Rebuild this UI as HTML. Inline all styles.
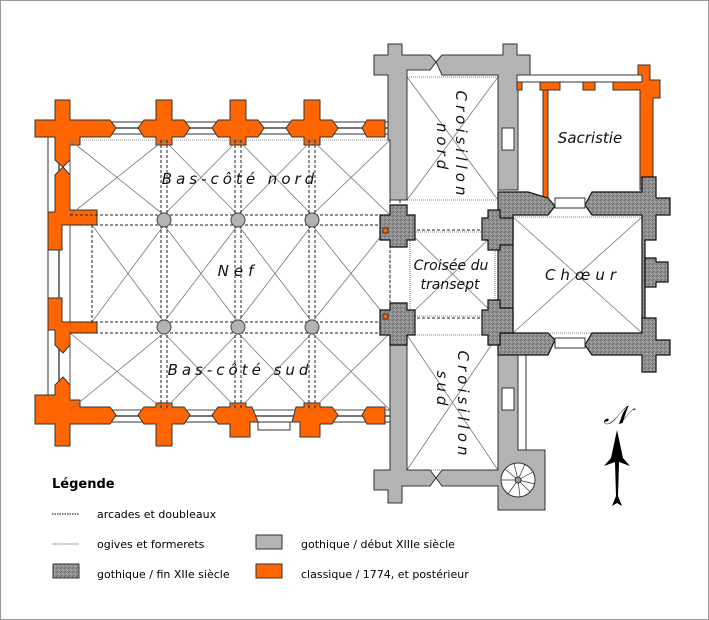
<!DOCTYPE html>
<html><head><meta charset="utf-8"><style>
html,body{margin:0;padding:0;background:#fff}
svg{display:block}
text{font-family:"DejaVu Sans","Liberation Sans",sans-serif}
</style></head><body>
<svg width="709" height="620" viewBox="0 0 709 620" xmlns="http://www.w3.org/2000/svg">
<defs>
<pattern id="tx" width="4" height="4" patternUnits="userSpaceOnUse">
<rect width="4" height="4" fill="#8e8e8e"/>
<rect x="0" y="0" width="1" height="1" fill="#6a6a6a"/>
<rect x="2" y="1" width="1" height="1" fill="#b0b0b0"/>
<rect x="1" y="3" width="1" height="1" fill="#707070"/>
<rect x="3" y="2" width="1" height="1" fill="#a8a8a8"/>
</pattern>
</defs>
<rect x="0.5" y="0.5" width="708" height="619" fill="#fff" stroke="#999"/>

<g fill="#fff" stroke="#333" stroke-width="1">
<rect x="70" y="122" width="320" height="12"/>
<rect x="70" y="410" width="320" height="12"/>
<rect x="48" y="135" width="22" height="275"/>
</g>
<g stroke="#777" stroke-width="2">
<line x1="70" y1="128" x2="390" y2="128"/>
<line x1="70" y1="416" x2="390" y2="416"/>
<line x1="59" y1="135" x2="59" y2="410"/>
</g>

<g fill="#ff6600" stroke="#333" stroke-width="1">
<path d="M35 120 H55 V100 H70 V120 H110 L116 128 L110 137 H80 V145 H70 V160 L63 167 L55 160 V137 H35 Z"/>
<path d="M138 128 L144 120 H156 V100 H172 V120 H184 L190 128 L184 137 H172 V145 H156 V137 H144 Z"/>
<path d="M212 128 L218 120 H230 V100 H246 V120 H258 L264 128 L258 137 H246 V145 H230 V137 H218 Z"/>
<path d="M286 128 L292 120 H304 V100 H320 V120 H332 L338 128 L332 137 H320 V145 H304 V137 H292 Z"/>
<path d="M362 128 L367 120 H385 V137 H367 Z"/>
<path d="M35 395 H55 V385 L63 377 L70 385 V400 H80 V407 H110 L116 415 L110 424 H70 V446 H55 V424 H35 Z"/>
<path d="M138 415 L144 407 H156 V403 H172 V407 H184 L190 415 L184 424 H172 V446 H156 V424 H144 Z"/>
<path d="M212 415 L218 407 H230 V403 H246 V407 H252 L258 422 H250 V437 H230 V424 H218 Z"/>
<path d="M292 422 L296 407 H304 V403 H320 V407 H332 L338 415 L332 424 H320 V437 H300 V422 Z"/>
<path d="M362 415 L367 407 H385 V424 H367 Z"/>
<path d="M55 175 L63 167 L70 175 V210 H97 V225 H62 V250 H48 V212 H55 Z"/>
<path d="M48 298 H62 V322 H97 V333 H70 V345 L63 353 L55 345 V330 H48 Z"/>
</g>
<rect x="258" y="422" width="32" height="8" fill="#fff" stroke="#333"/>

<g stroke="#777" stroke-width="0.8" fill="none">
<path d="M70 140 L164 215 M164 140 L70 215 M164 140 L238 215 M238 140 L164 215 M238 140 L312 215 M312 140 L238 215 M312 140 L390 215 M390 140 L312 215"/>
<path d="M92 225 L164 322 M164 225 L92 322 M164 225 L238 322 M238 225 L164 322 M238 225 L312 322 M312 225 L238 322 M312 225 L390 322 M390 225 L312 322"/>
<path d="M70 333 L164 410 M164 333 L70 410 M164 333 L238 410 M238 333 L164 410 M238 333 L312 410 M312 333 L238 410 M312 333 L390 410 M390 333 L312 410"/>
<path d="M407 230 L498 318 M498 230 L407 318"/>
<path d="M513 217 L642 333 M642 217 L513 333"/>
<path d="M407 77 L498 200 M498 77 L407 200"/>
<path d="M407 335 L498 470 M498 335 L407 470"/>
<rect x="70" y="140" width="320" height="270" stroke-dasharray="1 1"/>
</g>
<g stroke="#222" stroke-width="1" stroke-dasharray="3 2" fill="none">
<path d="M70 215 H390 M70 225 H390 M70 322 H390 M70 333 H390"/>
<path d="M161 140 V410 M167 140 V410 M235 140 V410 M241 140 V410 M309 140 V410 M315 140 V410"/>
<path d="M92 225 V322 M390 140 V410 M400 140 V215 M400 333 V410"/>
<path d="M407 230 H498 M407 318 H498 M498 230 V318 M513 230 V318"/>
</g>
<g stroke="#555" stroke-width="0.8" stroke-dasharray="1 1" fill="none">
<rect x="407" y="77" width="91" height="123"/>
<rect x="407" y="335" width="91" height="135"/>
<rect x="513" y="217" width="129" height="116"/>
<rect x="410" y="232" width="85" height="84"/>
</g>
<g fill="#b3b3b3" stroke="#444">
<circle cx="164" cy="220" r="7"/><circle cx="238" cy="220" r="7"/><circle cx="312" cy="220" r="7"/>
<circle cx="164" cy="327" r="7"/><circle cx="238" cy="327" r="7"/><circle cx="312" cy="327" r="7"/>
</g>

<g fill="#b3b3b3" stroke="#333" stroke-width="1">
<path d="M374 55 H388 V44 H402 V55 H430 L436 62 L430 70 H407 V200 H390 V140 H388 V75 H374 Z"/>
<path d="M436 62 L442 55 H503 V44 H517 V55 H530 V75 H518 V190 H498 V75 H442 Z"/>
<path d="M390 333 H407 V470 H430 L436 478 L430 486 H402 V503 H388 V490 H374 V470 H390 Z"/>
<path d="M436 478 L442 470 H498 V355 H518 V450 H545 V510 H498 V486 H442 Z"/>
</g>
<g fill="#fff" stroke="#333"><rect x="502" y="128" width="12" height="22"/><rect x="502" y="388" width="12" height="22"/><rect x="518" y="355" width="8" height="95"/></g>
<g fill="#fff" stroke="#333" stroke-width="1"><circle cx="518" cy="480" r="17"/></g>
<g stroke="#333" stroke-width="0.7"><path d="M518 480 L501 480 M518 480 L505 469 M518 480 L514 463 M518 480 L525 464 M518 480 L533 472 M518 480 L535 484 M518 480 L530 492 M518 480 L520 497 M518 480 L508 494"/></g>
<circle cx="518" cy="480" r="3" fill="#999" stroke="#333"/>

<g fill="#ff6600" stroke="#333" stroke-width="1">
<path d="M517 80 H522 V90 H517 Z"/>
<path d="M540 82 H560 V90 H540 Z"/>
<path d="M583 82 H595 V90 H583 Z"/>
<path d="M613 82 H638 V65 H650 V80 H660 V98 H653 V178 H640 V90 H613 Z"/>
<rect x="543" y="90" width="5" height="120"/>
</g>
<rect x="517" y="75" width="125" height="7" fill="#fff" stroke="#333"/>
<rect x="640" y="178" width="13" height="12" fill="url(#tx)" stroke="#333"/>

<g fill="url(#tx)" stroke="#111" stroke-width="1.2">
<path d="M498 192 H528 L548 198 L555 206 L548 215 H513 V330 H498 V240 L488 232 L490 220 L498 215 Z"/>
<path d="M585 205 L592 192 H642 V177 H656 V198 H670 V215 H656 V240 H645 V332 H642 V215 H592 Z"/>
<path d="M498 333 H548 L555 340 L548 355 H513 V355 H498 Z"/>
<path d="M585 345 L592 333 H642 V318 H656 V340 H670 V355 H656 V372 H642 V355 H592 Z"/>
<path d="M645 258 H656 V262 H668 V282 H656 V287 H645 Z"/>
<path d="M390 205 H407 V215 H415 V240 H407 V247 H390 V240 H380 V215 H390 Z"/>
<path d="M390 303 H407 V310 H415 V335 H407 V345 H390 V335 H380 V310 H390 Z"/>
<path d="M488 210 H500 V218 H513 V245 H500 V250 H488 V240 H482 V218 H488 Z"/>
<path d="M488 300 H500 V308 H513 V333 H500 V345 H488 V335 H482 V310 H488 Z"/>
</g>
<g fill="#fff" stroke="#333"><rect x="555" y="198" width="30" height="10"/><rect x="555" y="338" width="30" height="10"/></g>
<g fill="#ff6600" stroke="#333"><rect x="383" y="228" width="5" height="5"/><rect x="383" y="314" width="5" height="5"/></g>

<g font-style="italic" fill="#111" font-size="15">
<text x="240" y="184" text-anchor="middle" letter-spacing="4">Bas-côté nord</text>
<text x="238" y="276" text-anchor="middle" letter-spacing="5">Nef</text>
<text x="240" y="375" text-anchor="middle" letter-spacing="4">Bas-côté sud</text>
<text x="451" y="270" text-anchor="middle" font-size="14">Croisée du</text>
<text x="450" y="289" text-anchor="middle" font-size="14">transept</text>
<text x="583" y="280" text-anchor="middle" letter-spacing="5">Chœur</text>
<text x="590" y="143" text-anchor="middle">Sacristie</text>
<text transform="translate(456,145) rotate(90)" text-anchor="middle" letter-spacing="4">Croisillon</text>
<text transform="translate(437,148) rotate(90)" text-anchor="middle" letter-spacing="4">nord</text>
<text transform="translate(458,405) rotate(90)" text-anchor="middle" letter-spacing="4">Croisillon</text>
<text transform="translate(437,390) rotate(90)" text-anchor="middle" letter-spacing="4">sud</text>
</g>

<text x="616" y="424" text-anchor="middle" font-family="DejaVu Serif,Liberation Serif,serif" font-style="italic" font-size="26" fill="#000">𝒩</text>
<path d="M617 430 L611 458 L604 466 L615 462 L616 496 L612 506 L617 503 L622 506 L618 496 L619 462 L630 466 L623 458 Z" fill="#000"/>

<text x="52" y="488" font-size="13" font-weight="bold" fill="#000">Légende</text>
<g font-size="11" fill="#000">
<text x="97" y="518">arcades et doubleaux</text>
<text x="97" y="548">ogives et formerets</text>
<text x="97" y="578">gothique / fin XIIe siècle</text>
<text x="301" y="548">gothique / début XIIIe siècle</text>
<text x="301" y="578">classique / 1774, et postérieur</text>
</g>
<line x1="52" y1="514" x2="79" y2="514" stroke="#000" stroke-dasharray="1.5 1"/>
<line x1="52" y1="544" x2="79" y2="544" stroke="#777" stroke-dasharray="1 0.5"/>
<rect x="53" y="564" width="26" height="14" fill="url(#tx)" stroke="#333"/>
<rect x="256" y="535" width="26" height="14" fill="#b3b3b3" stroke="#333"/>
<rect x="256" y="564" width="26" height="14" fill="#ff6600" stroke="#333"/>
</svg>
</body></html>
